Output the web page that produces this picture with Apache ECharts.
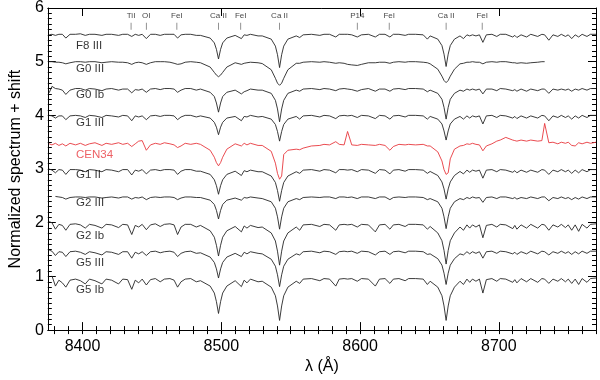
<!DOCTYPE html>
<html><head><meta charset="utf-8">
<script src="https://cdn.jsdelivr.net/npm/echarts@6/dist/echarts.min.js"></script>
<style>html,body{margin:0;padding:0;background:#fff}#c{width:600px;height:380px}</style>
</head><body><div id="c"></div>
<script>
// wavelength grid (Angstrom)
const wl = [
8376,8378,8380.5,8383,8385.5,8388,8391,8395,8398.5,8402,
8405,8409,8414,8417,8421,8426,8429,8432.5,8435.5,8438,
8440.5,8443,8446,8449,8452.5,8456,8459,8463,8466,8468.5,
8471,8474,8478,8482,8485,8492,8495,8496.5,8498,8499.5,
8501,8504,8510,8514.5,8516.5,8518.5,8521,8526.5,8529.5,8536,
8539,8540.5,8542,8543.5,8545,8548,8554,8556.5,8559,8565,
8571,8574,8578,8582.5,8585,8588.5,8591,8594,8598,8601,
8606,8611,8614,8618,8621.5,8624,8628,8632.5,8635,8640,
8645.5,8648.5,8650.5,8656,8659,8660.5,8662,8663.5,8665,8668,
8672,8674.5,8677,8679,8681,8683.5,8686,8688.5,8691,8695,
8698.5,8701,8705,8710,8711.5,8713,8716,8720,8723,8728,
8731,8733,8736,8739,8742.5,8745,8748,8750,8752.5,8755,
8757.5,8760,8763.5,8766,8770];

const f8iii = [
1.00,1.01,0.99,1.01,1.01,0.94,1.01,1.01,1.02,0.99,
1.01,1.01,0.99,1.01,1.01,0.99,1.01,1.01,0.97,1.01,
0.99,1.01,0.93,1.01,1.01,0.99,1.01,1.01,1.01,0.94,
1.00,1.01,1.01,0.99,0.99,0.94,0.85,0.73,0.55,0.73,
0.85,0.94,0.99,0.93,1.00,0.99,1.01,0.98,0.98,0.92,
0.79,0.63,0.39,0.63,0.79,0.92,0.98,0.95,1.00,1.01,
0.99,1.01,1.01,0.96,1.01,1.01,1.01,1.00,0.96,1.00,
1.01,0.96,1.01,1.01,0.96,1.01,1.01,0.99,1.01,1.01,
1.00,0.92,0.98,0.92,0.80,0.64,0.41,0.64,0.80,0.92,
0.98,0.93,1.00,0.98,1.00,0.98,1.00,0.86,1.00,1.01,
0.97,1.01,1.01,0.96,0.99,0.95,1.00,0.96,1.01,0.97,
1.01,1.00,0.90,1.00,0.97,1.01,0.97,1.00,0.93,1.00,
0.96,1.01,0.97,1.01,1.01];

const g0iii = [
1.00,1.00,0.99,0.99,0.98,0.96,0.98,1.00,1.00,0.99,
1.00,1.00,0.98,0.99,1.00,0.99,0.99,0.98,0.95,0.98,
0.99,0.98,0.95,0.98,1.00,1.00,1.00,0.99,0.97,0.95,
0.96,0.99,1.00,0.99,0.98,0.90,0.80,0.75,0.72,0.75,
0.80,0.90,0.98,0.95,0.97,0.98,0.99,0.98,0.965,0.85,
0.69,0.60,0.56,0.60,0.69,0.85,0.97,0.97,0.99,1.00,
0.99,1.00,0.99,0.97,0.98,0.97,0.95,0.94,0.93,0.95,
0.98,0.98,0.99,0.99,0.97,0.99,1.00,0.99,1.00,1.00,
0.99,0.98,0.96,0.86,0.73,0.65,0.61,0.65,0.73,0.86,
0.96,0.97,0.99,0.99,1.00,0.99,0.99,0.96,0.99,1.00,
0.99,1.00,1.00,0.98,0.98,0.97,0.98,0.97,0.98,0.99,
1.00,1.00,null,null,null,null,null,null,null,null,
null,null,null,null,null];

const g0ib = [
0.92,1.04,1.00,0.99,0.97,0.89,0.97,1.00,1.00,0.97,
1.00,0.99,0.96,0.99,1.00,0.97,0.99,0.99,0.92,0.98,
0.97,0.99,0.93,0.99,1.00,0.98,1.00,1.00,0.99,0.93,
0.97,1.00,1.00,0.97,0.99,0.93,0.85,0.73,0.56,0.73,
0.85,0.93,0.97,0.90,0.94,0.96,0.99,0.97,0.97,0.91,
0.78,0.62,0.38,0.62,0.78,0.91,0.97,0.95,0.99,1.00,
0.98,1.00,0.99,0.96,0.99,1.00,0.99,0.98,0.95,0.98,
1.00,0.95,0.99,0.99,0.95,0.99,1.00,0.98,1.00,1.00,
0.99,0.94,0.97,0.91,0.80,0.65,0.43,0.65,0.80,0.91,
0.97,0.95,0.99,0.97,0.99,0.97,0.99,0.90,0.99,0.99,
0.96,1.00,0.99,0.96,0.98,0.95,0.99,0.95,0.99,0.96,
0.99,0.99,0.91,0.99,0.97,0.99,0.97,0.99,0.95,0.99,
0.97,1.00,0.97,1.00,1.00];

const g1iii = [
1.00,0.99,0.95,0.99,0.99,0.92,0.99,1.00,0.99,0.96,
1.00,0.99,0.96,1.00,0.99,0.97,1.00,0.99,0.90,0.99,
0.97,0.99,0.92,0.99,1.00,0.98,1.00,1.00,0.99,0.92,
0.97,1.00,1.00,0.97,0.99,0.95,0.87,0.78,0.64,0.78,
0.87,0.95,0.98,0.90,0.98,0.97,1.00,0.97,0.98,0.93,
0.83,0.70,0.52,0.70,0.83,0.93,0.98,0.93,0.99,1.00,
0.97,1.00,0.99,0.94,0.99,1.00,0.99,1.00,0.96,1.00,
0.99,0.94,1.00,0.99,0.93,0.99,1.00,0.97,1.00,1.00,
0.99,0.93,0.98,0.93,0.84,0.71,0.54,0.71,0.84,0.93,
0.98,0.93,0.99,0.95,0.99,0.97,0.99,0.84,0.99,1.00,
0.96,1.00,0.99,0.95,0.98,0.94,0.99,0.95,0.99,0.95,
1.00,0.99,0.90,0.99,0.96,1.00,0.96,0.99,0.93,0.99,
0.95,1.00,0.96,1.00,1.00];

const cen34 = [
1.00,0.98,1.01,0.97,1.00,0.96,1.01,0.98,1.01,0.97,
1.00,1.02,0.97,1.01,0.99,1.02,0.99,1.01,0.95,1.00,
1.05,1.06,0.88,0.98,1.01,0.99,1.02,1.00,0.98,0.93,
0.96,1.01,0.99,1.01,0.99,0.88,0.75,0.65,0.59,0.65,
0.75,0.90,1.00,0.96,1.01,0.98,1.01,0.97,0.97,0.86,
0.64,0.45,0.34,0.40,0.80,0.88,0.90,0.89,0.92,0.96,
0.97,0.99,0.98,1.04,0.99,0.98,1.23,0.98,0.97,0.99,
0.98,0.97,0.99,0.97,0.88,0.95,0.99,0.98,0.99,0.98,
0.99,0.96,0.96,0.85,0.68,0.52,0.43,0.46,0.72,0.90,
0.96,0.97,1.00,0.99,1.01,0.99,0.98,0.87,0.96,1.00,
1.05,1.07,1.12,1.07,1.06,1.05,1.07,1.05,1.07,1.05,
1.06,1.38,1.02,1.03,1.00,1.03,1.01,1.03,0.97,0.96,
1.02,1.00,1.03,1.01,1.03];

const g1ii = [
1.00,0.98,0.93,0.99,0.98,0.90,0.99,0.99,0.98,0.95,
0.99,0.98,0.95,0.99,0.98,0.95,0.99,0.99,0.89,0.98,
0.96,0.99,0.91,0.98,0.99,0.97,0.99,0.99,0.98,0.90,
0.96,0.99,0.99,0.96,0.96,0.90,0.80,0.69,0.53,0.69,
0.80,0.90,0.96,0.88,0.97,0.95,0.98,0.95,0.95,0.87,
0.75,0.60,0.40,0.60,0.75,0.87,0.95,0.92,0.98,0.99,
0.96,0.99,0.98,0.93,0.99,0.99,0.98,0.99,0.95,0.99,
0.98,0.92,0.99,0.98,0.91,0.98,0.99,0.96,0.99,0.99,
0.98,0.92,0.955,0.88,0.76,0.63,0.44,0.63,0.76,0.88,
0.955,0.91,0.98,0.94,0.98,0.96,0.98,0.83,0.98,0.99,
0.95,0.99,0.98,0.94,0.97,0.93,0.98,0.94,0.98,0.94,
0.99,0.98,0.90,0.98,0.95,0.99,0.95,0.98,0.92,0.98,
0.93,0.99,0.95,0.99,0.99];

const g2iii = [
null,null,0.99,0.98,0.97,0.94,0.97,0.98,0.98,0.97,
0.98,0.98,0.96,0.97,0.98,0.96,0.98,0.98,0.94,0.97,
0.96,0.98,0.93,0.97,0.98,0.97,0.98,0.98,0.97,0.93,
0.96,0.98,0.98,0.97,0.97,0.92,0.84,0.73,0.57,0.73,
0.84,0.92,0.96,0.92,0.97,0.96,0.98,0.96,0.95,0.89,
0.77,0.61,0.38,0.61,0.77,0.89,0.95,0.93,0.97,0.98,
0.97,0.98,0.98,0.95,0.98,0.98,0.97,0.98,0.95,0.98,
0.98,0.95,0.98,0.98,0.93,0.97,0.98,0.97,0.98,0.98,
0.97,0.93,0.95,0.89,0.77,0.61,0.39,0.61,0.77,0.89,
0.95,0.93,0.97,0.95,0.98,0.96,0.97,0.88,0.97,0.98,
0.95,0.98,0.98,0.95,0.97,0.94,0.97,0.95,0.98,0.95,
0.98,0.98,0.91,0.97,0.95,0.98,0.95,0.97,0.93,0.97,
0.94,0.98,0.95,0.98,0.98];

const g2ib = [
1.02,1.00,0.88,0.97,0.95,0.86,0.97,0.98,0.96,0.90,
0.97,0.95,0.90,0.97,0.96,0.91,0.97,0.96,0.78,0.95,
0.92,0.97,0.87,0.96,0.98,0.93,0.97,0.98,0.96,0.78,
0.92,0.97,0.97,0.92,0.95,0.85,0.73,0.58,0.38,0.58,
0.73,0.85,0.93,0.83,0.94,0.90,0.95,0.91,0.92,0.81,
0.66,0.47,0.21,0.47,0.66,0.81,0.92,0.86,0.96,0.97,
0.93,0.97,0.96,0.86,0.96,0.97,0.96,0.97,0.92,0.97,
0.96,0.83,0.96,0.97,0.88,0.96,0.97,0.93,0.97,0.97,
0.96,0.88,0.93,0.81,0.665,0.485,0.23,0.485,0.665,0.81,
0.92,0.86,0.96,0.90,0.96,0.92,0.96,0.72,0.95,0.97,
0.92,0.97,0.96,0.89,0.95,0.88,0.96,0.90,0.97,0.90,
0.97,0.96,0.86,0.96,0.92,0.97,0.91,0.96,0.86,0.96,
0.84,0.97,0.90,0.97,0.98];

const g5iii = [
0.99,0.97,0.89,0.96,0.95,0.87,0.96,0.97,0.95,0.91,
0.96,0.94,0.90,0.96,0.95,0.91,0.96,0.96,0.84,0.95,
0.92,0.96,0.89,0.96,0.97,0.94,0.96,0.97,0.95,0.87,
0.93,0.96,0.97,0.93,0.94,0.86,0.76,0.64,0.47,0.64,
0.76,0.86,0.93,0.87,0.95,0.92,0.96,0.93,0.92,0.82,
0.69,0.53,0.31,0.53,0.69,0.82,0.92,0.90,0.96,0.97,
0.94,0.97,0.96,0.91,0.96,0.97,0.96,0.97,0.93,0.97,
0.96,0.90,0.96,0.97,0.91,0.96,0.97,0.94,0.97,0.97,
0.96,0.91,0.92,0.83,0.71,0.56,0.35,0.56,0.71,0.83,
0.92,0.90,0.96,0.92,0.96,0.93,0.96,0.84,0.96,0.97,
0.93,0.97,0.96,0.92,0.95,0.91,0.96,0.92,0.97,0.92,
0.97,0.96,0.90,0.96,0.93,0.97,0.93,0.96,0.91,0.96,
0.92,0.97,0.93,0.97,0.97];

const g5ib = [
null,1.01,0.82,0.93,0.88,0.80,0.93,0.95,0.92,0.86,
0.95,0.92,0.86,0.95,0.93,0.86,0.95,0.94,0.76,0.93,
0.88,0.95,0.84,0.94,0.96,0.90,0.95,0.96,0.93,0.80,
0.90,0.95,0.96,0.90,0.92,0.82,0.69,0.53,0.31,0.53,
0.69,0.82,0.92,0.81,0.93,0.88,0.95,0.90,0.91,0.80,
0.64,0.45,0.18,0.45,0.64,0.80,0.91,0.87,0.95,0.96,
0.92,0.96,0.95,0.82,0.95,0.96,0.95,0.96,0.91,0.96,
0.95,0.82,0.95,0.96,0.87,0.95,0.96,0.92,0.96,0.96,
0.95,0.85,0.91,0.80,0.64,0.45,0.18,0.45,0.64,0.80,
0.91,0.85,0.95,0.89,0.95,0.91,0.95,0.69,0.94,0.96,
0.91,0.96,0.95,0.89,0.94,0.88,0.96,0.90,0.96,0.89,
0.96,0.95,0.87,0.95,0.91,0.96,0.90,0.95,0.87,0.95,
0.85,0.96,0.89,0.96,0.97];

const starNames = ['F8 III','G0 III','G0 Ib','G1 III','CEN34','G1 II','G2 III','G2 Ib','G5 III','G5 Ib'];
const starFlux = [f8iii,g0iii,g0ib,g1iii,cen34,g1ii,g2iii,g2ib,g5iii,g5ib];
const shifts = [4.5,4.0,3.5,3.0,2.47,2.0,1.5,1.0,0.5,0.0];
const starLabelY = [5.29,4.86,4.39,3.87,3.27,2.90,2.37,1.76,1.25,0.75];
const starLabelX = 8395;

const lineWl = [8435,8446,8468,8498,8514,8542,8598,8621,8662,8688];
const lineNames = ['TiI','OI','FeI','Ca II','FeI','Ca II','P14','FeI','Ca II','FeI'];

const xMajor = [8400,8500,8600,8700];
const xMinor = [8380,8390,8400,8410,8420,8430,8440,8450,8460,8470,8480,8490,8500,8510,8520,8530,8540,8550,8560,8570,
8580,8590,8600,8610,8620,8630,8640,8650,8660,8670,8680,8690,8700,8710,8720,8730,8740,8750,8760,8770];

const FONT = 'Liberation Sans, Arial, Helvetica, sans-serif';
const BLACK = '#262626';
const RED = '#e8383d';
const X0 = 8375, X1 = 8770;

const chart = echarts.init(document.getElementById('c'), null, {renderer:'canvas'});

const series = starFlux.map((f, i) => ({
  type: 'line',
  name: starNames[i],
  data: wl.map((w, k) => [w, f[k] == null ? null : f[k] + shifts[i]]),
  showSymbol: false,
  symbol: 'none',
  connectNulls: false,
  lineStyle: { color: starNames[i] === 'CEN34' ? RED : BLACK, width: 0.9 },
  silent: true,
  z: 2
}));

series.push({
  type: 'scatter',
  data: starLabelY.map((y, i) => ({ value: [starLabelX, y], name: starNames[i],
    label: { color: starNames[i] === 'CEN34' ? RED : '#000' } })),
  symbolSize: 1,
  itemStyle: { color: 'rgba(0,0,0,0)' },
  label: { show: true, position: 'right', distance: 0, formatter: '{b}', fontSize: 11.5, fontFamily: FONT },
  silent: true,
  z: 3
});

series.push({
  type: 'scatter',
  data: lineWl.map((w, i) => ({ value: [w, 5.66], name: lineNames[i] })),
  symbol: 'rect',
  symbolSize: [0.8, 7],
  itemStyle: { color: '#555' },
  label: { show: true, position: 'top', distance: 3, formatter: '{b}', fontSize: 8, color: '#111', fontFamily: FONT },
  silent: true,
  z: 3
});

const axLine = { show: true, onZero: false, lineStyle: { color: '#000', width: 1 } };
const plain = v => String(v);

chart.setOption({
  animation: false,
  backgroundColor: '#fff',
  grid: { left: 40, right: 4, top: 7, bottom: 44, containLabel: false },
  xAxis: [
    { type: 'value', min: X0, max: X1, position: 'bottom',
      axisLine: axLine,
      axisTick: { show: true, inside: true, length: 8, customValues: xMajor, lineStyle: { color: '#000' } },
      axisLabel: { show: true, customValues: xMajor, formatter: plain, fontSize: 16, color: '#000', margin: 8, fontFamily: FONT },
      splitLine: { show: false },
      name: 'λ (Å)', nameLocation: 'middle', nameGap: 24,
      nameTextStyle: { fontSize: 16, color: '#000', fontFamily: FONT } },
    { type: 'value', min: X0, max: X1, position: 'bottom',
      axisLine: { show: false },
      axisTick: { show: true, inside: true, length: 4, customValues: xMinor, lineStyle: { color: '#000' } },
      axisLabel: { show: false }, splitLine: { show: false } },
    { type: 'value', min: X0, max: X1, position: 'top',
      axisLine: axLine,
      axisTick: { show: true, inside: true, length: 8, customValues: xMajor, lineStyle: { color: '#000' } },
      axisLabel: { show: false }, splitLine: { show: false } },
    { type: 'value', min: X0, max: X1, position: 'top',
      axisLine: { show: false },
      axisTick: { show: true, inside: true, length: 4, customValues: xMinor, lineStyle: { color: '#000' } },
      axisLabel: { show: false }, splitLine: { show: false } }
  ],
  yAxis: [
    { type: 'value', min: 0, max: 6, interval: 1, position: 'left',
      axisLine: axLine,
      axisTick: { show: true, inside: true, length: 8, lineStyle: { color: '#000' } },
      minorTick: { show: true, splitNumber: 10, length: 4, lineStyle: { color: '#000' } },
      axisLabel: { show: true, formatter: plain, fontSize: 16, color: '#000', margin: 4, fontFamily: FONT },
      splitLine: { show: false }, minorSplitLine: { show: false },
      name: 'Normalized spectrum + shift', nameLocation: 'middle', nameGap: 22,
      nameTextStyle: { fontSize: 16, color: '#000', fontFamily: FONT } },
    { type: 'value', min: 0, max: 6, interval: 1, position: 'right',
      axisLine: axLine,
      axisTick: { show: true, inside: true, length: 8, lineStyle: { color: '#000' } },
      minorTick: { show: true, splitNumber: 10, length: 4, lineStyle: { color: '#000' } },
      axisLabel: { show: false },
      splitLine: { show: false }, minorSplitLine: { show: false } }
  ],
  series: series
});
</script>
</body></html>
